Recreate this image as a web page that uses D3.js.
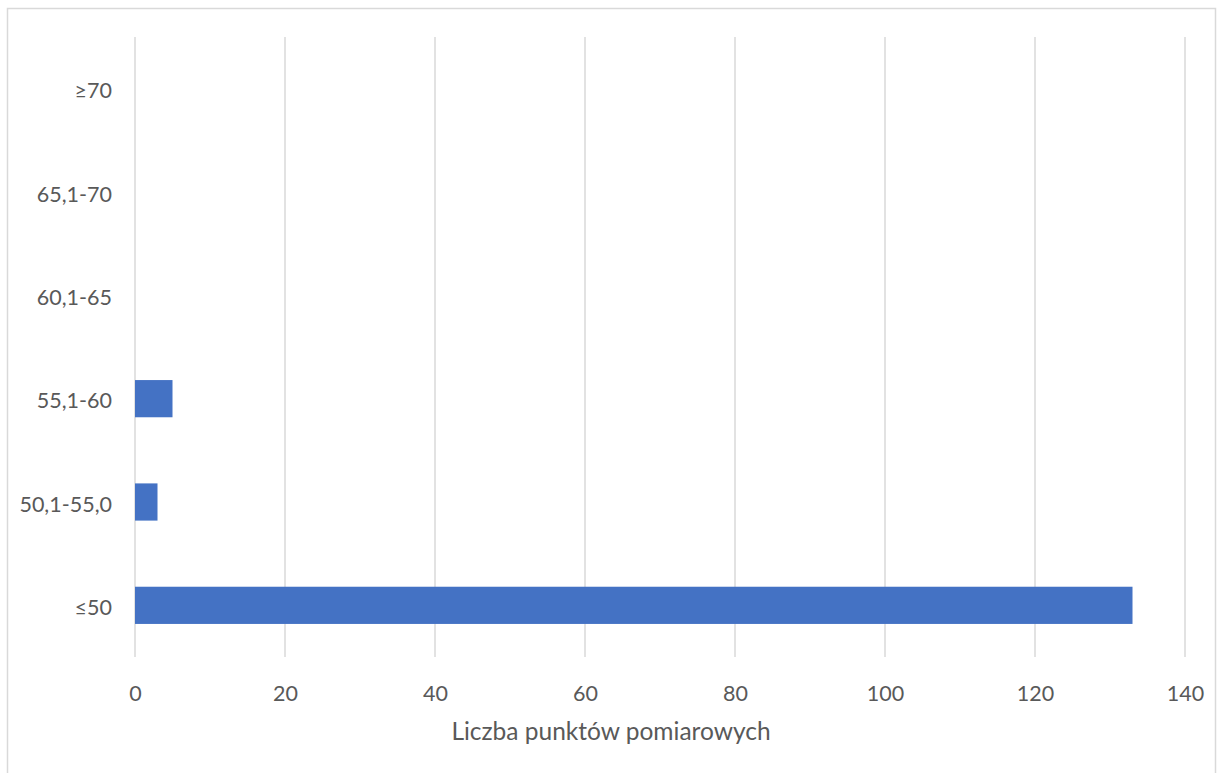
<!DOCTYPE html>
<html><head><meta charset="utf-8">
<script src="https://cdn.jsdelivr.net/npm/d3@7"></script>
<style>body{margin:0;background:#fff;} svg{display:block;}</style>
</head><body>
<script>
const categories = ["≤50", "50,1-55,0", "55,1-60", "60,1-65", "65,1-70", "≥70"];
const values = [133, 3, 5, 0, 0, 0];
const xTicks = [0, 20, 40, 60, 80, 100, 120, 140];
const xTitle = "Liczba punktów pomiarowych";

const W = 1217, H = 773;
const m = {left: 135, right: W - 1185, top: 37, bottom: H - 657};
const font = "Lato, 'Open Sans', sans-serif";
const txt = "#595959";

const svg = d3.select("body").append("svg").attr("width", W).attr("height", H);
svg.append("rect").attr("x", 7.5).attr("y", 8.5).attr("width", 1208).attr("height", 775)
  .attr("fill", "#fff").attr("stroke", "#d9d9d9").attr("stroke-width", 1.5);

const x = d3.scaleLinear().domain([0, 140]).range([m.left, W - m.right]);
const y = d3.scaleBand().domain(categories.slice().reverse()).range([m.top, H - m.bottom]).paddingInner(0.64).paddingOuter(0.32);

// gridlines
svg.append("g").selectAll("line").data(xTicks).join("line")
  .attr("x1", d => x(d)).attr("x2", d => x(d))
  .attr("y1", m.top).attr("y2", H - m.bottom)
  .attr("stroke", "#d9d9d9").attr("stroke-width", 1.5);

// bars
svg.append("g").selectAll("rect").data(categories).join("rect")
  .attr("x", x(0)).attr("y", d => y(d))
  .attr("width", (d, i) => x(values[i]) - x(0))
  .attr("height", y.bandwidth())
  .attr("fill", "#4472C4");

// x axis
const xa = svg.append("g").attr("transform", `translate(0,${H - m.bottom})`)
  .call(d3.axisBottom(x).tickValues(xTicks).tickSize(0).tickPadding(29));
xa.select(".domain").remove();
xa.selectAll("text").attr("fill", txt).style("font-family", font).style("font-size", "21.5px");

// y axis
const ya = svg.append("g").attr("transform", `translate(${m.left},0)`)
  .call(d3.axisLeft(y).tickSize(0).tickPadding(23));
ya.select(".domain").remove();
ya.selectAll("text").attr("fill", txt).attr("dy", "0.45em").style("font-family", font).style("font-size", "21.5px");

svg.append("text").attr("x", 611).attr("y", 740)
  .attr("text-anchor", "middle").attr("fill", txt)
  .style("font-family", font).style("font-size", "24.5px").text(xTitle);
</script>
</body></html>
